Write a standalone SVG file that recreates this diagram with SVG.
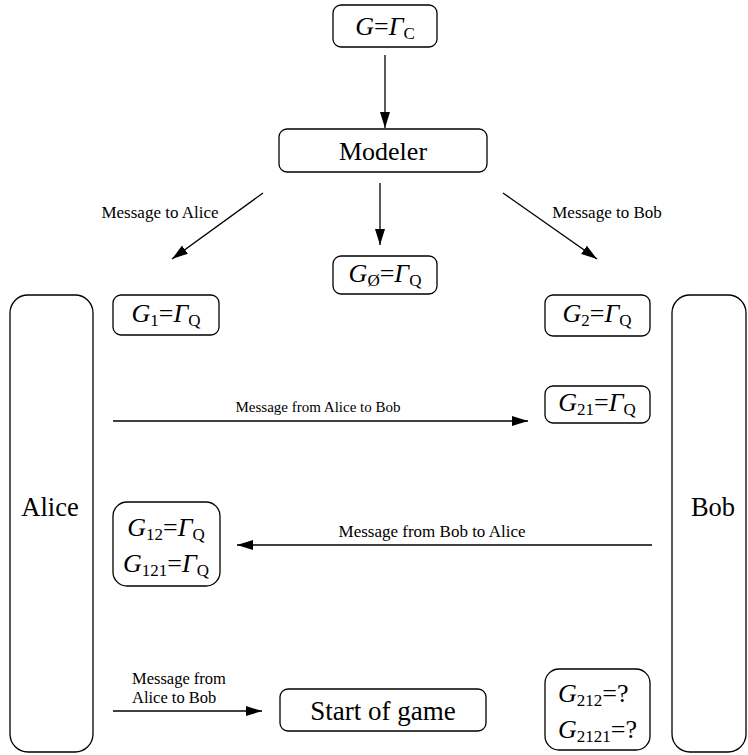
<svg xmlns="http://www.w3.org/2000/svg" width="748" height="755" viewBox="0 0 748 755" font-family="'Liberation Serif', 'Times New Roman', serif">
<style>
.box{fill:#fff;stroke:#000;stroke-width:1.3}
.t{fill:#000}
.m{font-size:26px;text-anchor:middle}
.lbl{font-size:17px;text-anchor:middle}
.big{font-size:26.5px;text-anchor:middle}
.ln{stroke:#000;stroke-width:1.3;fill:none}
.i{font-style:italic}
.s{font-size:17px}
</style>
<defs>
<marker id="ah" viewBox="0 0 16 10" refX="16" refY="5" markerWidth="16" markerHeight="10" markerUnits="userSpaceOnUse" orient="auto">
<path d="M0,0 L16,5 L0,10 Z" fill="#000"/>
</marker>
</defs>
<rect width="748" height="755" fill="#fff"/>
<g id="connectors">
<line class="ln" x1="385" y1="55" x2="385" y2="128" marker-end="url(#ah)"/>
<line class="ln" x1="380" y1="183" x2="380" y2="245" marker-end="url(#ah)"/>
<line class="ln" x1="263" y1="193" x2="172" y2="259" marker-end="url(#ah)"/>
<line class="ln" x1="503" y1="193" x2="597" y2="259" marker-end="url(#ah)"/>
<line class="ln" x1="113" y1="421" x2="528" y2="421" marker-end="url(#ah)"/>
<line class="ln" x1="652" y1="545" x2="237" y2="545" marker-end="url(#ah)"/>
<line class="ln" x1="113" y1="711" x2="262" y2="711" marker-end="url(#ah)"/>
<text class="t lbl" x="160" y="218">Message to Alice</text>
<text class="t lbl" x="607" y="218">Message to Bob</text>
<text class="t" font-size="15" text-anchor="middle" x="318" y="412">Message from Alice to Bob</text>
<text class="t lbl" x="432" y="537">Message from Bob to Alice</text>
<text class="t" font-size="16.5" x="132" y="684">Message from</text>
<text class="t" font-size="16.5" x="132" y="703">Alice to Bob</text>
</g>
<g id="gc">
<rect class="box" x="333" y="5" width="104" height="42" rx="8"/>
<text class="t m" x="385" y="35"><tspan class="i">G</tspan>=<tspan class="i">Γ</tspan><tspan class="s" dy="4">C</tspan></text>
</g>
<g id="modeler">
<rect class="box" x="279" y="129" width="208" height="43" rx="8"/>
<text class="t m" x="383" y="160">Modeler</text>
</g>
<g id="g0">
<rect class="box" x="333" y="256" width="104" height="38" rx="8"/>
<text class="t m" x="385" y="282"><tspan class="i">G</tspan><tspan class="s" dy="4">Ø</tspan><tspan dy="-4">=</tspan><tspan class="i">Γ</tspan><tspan class="s" dy="4">Q</tspan></text>
</g>
<g id="g1">
<rect class="box" x="113" y="295" width="106" height="40" rx="8"/>
<text class="t m" x="166" y="322"><tspan class="i">G</tspan><tspan class="s" dy="4">1</tspan><tspan dy="-4">=</tspan><tspan class="i">Γ</tspan><tspan class="s" dy="4">Q</tspan></text>
</g>
<g id="g2">
<rect class="box" x="545" y="295" width="105" height="41" rx="8"/>
<text class="t m" x="597" y="322"><tspan class="i">G</tspan><tspan class="s" dy="4">2</tspan><tspan dy="-4">=</tspan><tspan class="i">Γ</tspan><tspan class="s" dy="4">Q</tspan></text>
</g>
<g id="g21">
<rect class="box" x="545" y="386" width="105" height="37" rx="8"/>
<text class="t m" x="597" y="411"><tspan class="i">G</tspan><tspan class="s" dy="4">21</tspan><tspan dy="-4">=</tspan><tspan class="i">Γ</tspan><tspan class="s" dy="4">Q</tspan></text>
</g>
<g id="g12">
<rect class="box" x="113" y="502" width="107" height="84" rx="14"/>
<text class="t m" x="166" y="536"><tspan class="i">G</tspan><tspan class="s" dy="4">12</tspan><tspan dy="-4">=</tspan><tspan class="i">Γ</tspan><tspan class="s" dy="4">Q</tspan></text>
<text class="t m" x="166" y="572"><tspan class="i">G</tspan><tspan class="s" dy="4">121</tspan><tspan dy="-4">=</tspan><tspan class="i">Γ</tspan><tspan class="s" dy="4">Q</tspan></text>
</g>
<g id="g212">
<rect class="box" x="545" y="669" width="105" height="81" rx="14"/>
<text class="t" font-size="26" x="558" y="702"><tspan class="i">G</tspan><tspan class="s" dy="4">212</tspan><tspan dy="-4">=?</tspan></text>
<text class="t" font-size="26" x="558" y="738"><tspan class="i">G</tspan><tspan class="s" dy="4">2121</tspan><tspan dy="-4">=?</tspan></text>
</g>
<g id="start">
<rect class="box" x="280" y="689" width="206" height="42" rx="8"/>
<text class="t" font-size="27" text-anchor="middle" x="383" y="720">Start of game</text>
</g>
<g id="alice">
<rect class="box" x="10" y="295" width="83" height="457" rx="18"/>
<text class="t big" x="50" y="516">Alice</text>
</g>
<g id="bob">
<rect class="box" x="672" y="295" width="74" height="457" rx="18"/>
<text class="t big" x="713" y="516">Bob</text>
</g>
</svg>
